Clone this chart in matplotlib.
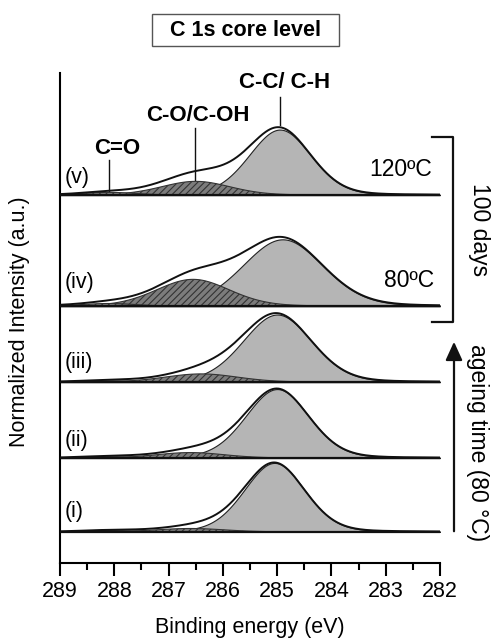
import numpy as np
import matplotlib
matplotlib.use("Agg")
import matplotlib.pyplot as plt
from matplotlib.lines import Line2D
from matplotlib.patches import FancyArrowPatch, Rectangle

plt.rcParams['font.family'] = ['Liberation Sans', 'DejaVu Sans']
plt.rcParams['hatch.linewidth'] = 0.8

# ---- data (bottom to top: i .. v) ----
labels = ["(i)", "(ii)", "(iii)", "(iv)", "(v)"]
offsets = [0.45, 1.52, 2.62, 3.72, 5.33]
label_y = [0.74, 1.78, 2.90, 4.07, 5.58]

# C-C / C-H component
cc_center = [285.05, 285.0, 285.0, 284.9, 284.95]
cc_height = [1.00, 1.00, 0.98, 0.97, 0.95]
cc_fwhm = [1.32, 1.38, 1.50, 1.75, 1.35]

# C-O / C-OH component
co_center = [286.6, 286.6, 286.4, 286.55, 286.5]
co_height = [0.05, 0.08, 0.12, 0.39, 0.20]
co_fwhm = [1.5, 1.5, 1.6, 1.6, 1.5]

# C=O component
cdo_center = [288.1, 288.1, 288.1, 288.1, 288.1]
cdo_height = [0.02, 0.02, 0.02, 0.04, 0.04]
cdo_fwhm = [1.2, 1.2, 1.2, 1.2, 1.2]

# measured envelope excess over the fitted components
ex_center = [286.2, 286.2, 286.2, 286.2, 286.3]
ex_height = [0.04, 0.05, 0.04, 0.04, 0.11]
ex_fwhm = [1.2, 1.2, 1.3, 1.5, 1.7]

xticks = [289, 288, 287, 286, 285, 284, 283, 282]

def peak(x, c, h, w, eta=0.15):
    g = np.exp(-4 * np.log(2) * ((x - c) / w) ** 2)
    l = 1.0 / (1.0 + 4 * ((x - c) / w) ** 2)
    return h * ((1 - eta) * g + eta * l)

W, H = 491, 640
fig = plt.figure(figsize=(W / 100, H / 100), dpi=100)
ax = fig.add_axes([60 / W, 1 - 563 / H, 380 / W, 490 / H])

x = np.linspace(282, 289, 800)
gray = '#b5b5b5'
for i in range(5):
    off = offsets[i]
    cc = peak(x, cc_center[i], cc_height[i], cc_fwhm[i])
    co = peak(x, co_center[i], co_height[i], co_fwhm[i])
    cdo = peak(x, cdo_center[i], cdo_height[i], cdo_fwhm[i])
    ex = peak(x, ex_center[i], ex_height[i], ex_fwhm[i], eta=0.0)
    env = cc + co + cdo + ex
    ax.fill_between(x, off, off + cc, facecolor=gray, edgecolor='#222222', linewidth=0.8, zorder=2)
    ax.fill_between(x, off, off + co, facecolor='#7c7c7c', edgecolor='#333333', hatch='/////',
                    linewidth=0.8, zorder=3)
    ax.fill_between(x, off, off + cdo, facecolor='#7c7c7c', edgecolor='#333333', hatch='/////',
                    linewidth=0.8, zorder=3)
    ax.plot(x, off + env, color='#111111', lw=1.4, zorder=4)
    ax.plot([289, 282], [off, off], color='#111111', lw=1.6, zorder=5)
    ax.text(288.91, label_y[i], labels[i], fontsize=15.5, ha='left', va='center', zorder=6)

ax.set_xlim(289, 282)
ax.set_ylim(0, 7.1)
ax.set_xticks(xticks)
ax.set_xticks(np.arange(282.5, 289, 1.0), minor=True)
ax.tick_params(axis='x', which='major', length=9, width=1.5, labelsize=15.5, pad=4)
ax.tick_params(axis='x', which='minor', length=5, width=1.5)
ax.set_yticks([])
for s in ['top', 'right']:
    ax.spines[s].set_visible(False)
ax.spines['left'].set_linewidth(1.5)
ax.spines['bottom'].set_linewidth(1.5)

def fx(px):
    return px / W
def fy(py):
    return 1 - py / H

fig.text(fx(250), fy(628), "Binding energy (eV)", fontsize=15.5, ha='center', va='center')
fig.text(fx(20), fy(322), "Normalized Intensity (a.u.)", rotation=90,
         fontsize=15.5, ha='center', va='center')

# peak annotations
ax.text(287.95, 6.01, "C=O", fontsize=16, fontweight='bold', ha='center', va='center')
ax.plot([288.1, 288.1], [5.38, 5.84], color='#111111', lw=1.0)
ax.text(286.46, 6.49, "C-O/C-OH", fontsize=16, fontweight='bold', ha='center', va='center')
ax.plot([286.51, 286.51], [5.55, 6.30], color='#111111', lw=1.0)
ax.text(284.86, 6.96, "C-C/ C-H", fontsize=16, fontweight='bold', ha='center', va='center')
ax.plot([284.95, 284.95], [6.35, 6.75], color='#111111', lw=1.0)

ax.text(282.15, 5.70, "120ºC", fontsize=16.5, ha='right', va='center')
ax.text(282.1, 4.10, "80ºC", fontsize=16.5, ha='right', va='center')

# title box
fig.add_artist(Rectangle((fx(152), fy(46)), fx(339) - fx(152), fy(14) - fy(46),
                         transform=fig.transFigure, facecolor='white',
                         edgecolor='#555555', lw=1.0))
fig.text(fx(245), fy(31), "C 1s core level", fontsize=15.5, fontweight='bold',
         ha='center', va='center')

# bracket
bx = 453
fig.add_artist(Line2D([fx(432), fx(bx), fx(bx), fx(432)], [fy(137), fy(137), fy(322), fy(322)],
                      color='#111111', lw=1.6))
fig.text(fx(479), fy(230), "100 days", rotation=-90, fontsize=16.5, ha='center', va='center')

# arrow
arr = FancyArrowPatch((fx(454), fy(534)), (fx(454), fy(339)), transform=fig.transFigure,
                      arrowstyle='-|>,head_length=7,head_width=3.2', color='#111111', lw=1.6,
                      mutation_scale=1.6)
fig.add_artist(arr)
fig.text(fx(478), fy(443), "ageing time (80 °C)", rotation=-90, fontsize=16.5,
         ha='center', va='center')

fig.savefig("out.png", dpi=100)
